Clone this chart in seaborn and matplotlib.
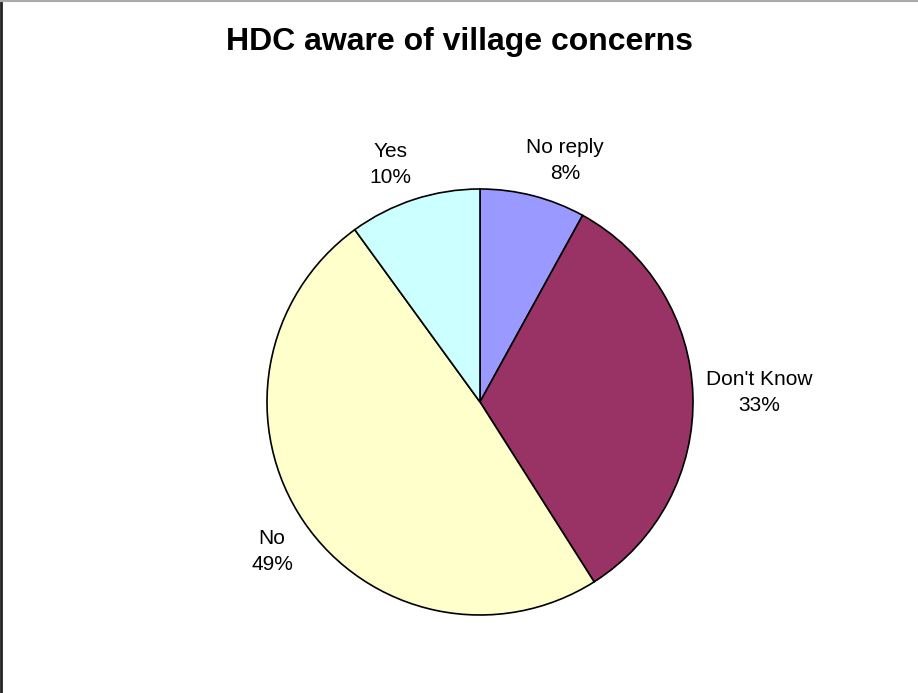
import matplotlib
matplotlib.use("Agg")
import numpy as np
import matplotlib.pyplot as plt
import seaborn as sns
from matplotlib.lines import Line2D

# chart data
categories = ["No reply", "Don't Know", "No", "Yes"]
percentages = [8, 33, 49, 10]
colours = ["#9999FF", "#993366", "#FFFFCC", "#CCFFFF"]
title = "HDC aware of village concerns"

sns.set_theme(style="white")
plt.rcParams['font.family'] = ['Liberation Sans', 'DejaVu Sans']

fig = plt.figure(figsize=(9.18, 6.93), dpi=100)
W, H = 918, 693
cx, cy, r = 480, 402, 213
ax = fig.add_axes([(cx - r) / W, (H - cy - r) / H, 2 * r / W, 2 * r / H])

labels = [f"{c}\n{p}%" for c, p in zip(categories, percentages)]
wedges, texts = ax.pie(percentages, labels=labels, colors=colours,
                       startangle=90, counterclock=False, radius=1,
                       labeldistance=1.2,
                       wedgeprops=dict(edgecolor="black", linewidth=1.2),
                       textprops=dict(fontsize=15, color="black"))
ax.set_xlim(-1, 1)
ax.set_ylim(-1, 1)
ax.set_aspect("equal")
ax.axis("off")

for t in texts:
    t.set_horizontalalignment("center")
    t.set_verticalalignment("center")
    t.set_linespacing(1.45)

# Excel-style label placement: the near corner of each label box sits on
# the slice's mid ray a little outside the pie edge
fig.canvas.draw()
renderer = fig.canvas.get_renderer()
anchor = 1 + 13 / r
for w, t in zip(wedges, texts):
    ang = np.deg2rad((w.theta1 + w.theta2) / 2)
    bb = t.get_window_extent(renderer)
    hw, hh = bb.width / 2 / r, bb.height / 2 / r
    ox = hw * np.clip(3 * np.cos(ang), -1, 1)
    oy = hh * np.clip(3 * np.sin(ang), -1, 1)
    t.set_position((anchor * np.cos(ang) + ox, anchor * np.sin(ang) + oy))

fig.text(459 / W, 1 - 42 / H, title, ha="center", va="center",
         fontsize=23, fontweight="bold", color="black")

# chart area border (left and top edges visible)
fig.add_artist(Line2D([0.001, 0.001], [0, 1], transform=fig.transFigure,
                      color="#222222", linewidth=2))
fig.add_artist(Line2D([0, 1], [0.998, 0.998], transform=fig.transFigure,
                      color="#aaaaaa", linewidth=1.5))

fig.savefig("out.png", dpi=100)
